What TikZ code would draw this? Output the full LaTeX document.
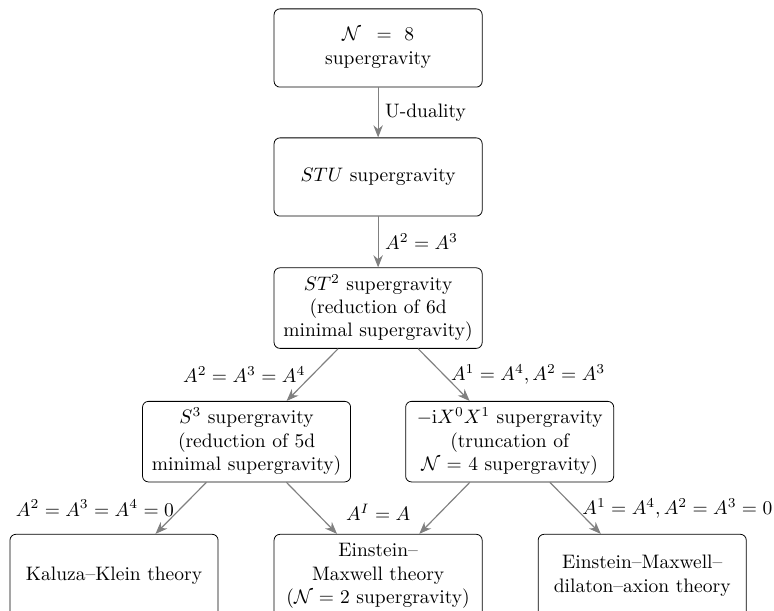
\documentclass[tikz,border=0pt]{standalone}
\usepackage{amsmath,amssymb}
\usetikzlibrary{arrows.meta,positioning,calc}
\definecolor{flowgray}{HTML}{808080}

\begin{document}
\begin{tikzpicture}[
    theory/.style={draw,rounded corners=3pt,align=center,text width=3.45cm,
                   minimum width=3.75cm,minimum height=1.41cm},
    leaf/.style={theory,minimum height=1.5cm},
    flow/.style={draw=flowgray,semithick,-{Stealth[length=2.2mm,width=1.7mm]}}]
  \useasboundingbox (0,0) rectangle (13.95,-11.01);
  % chain of truncations
  \node[theory] (n8)   at (6.815,-0.865) {$\mathcal{N}$\hspace{8pt}$=$\hspace{6.5pt}$8$\\ supergravity};
  \node[theory] (stu)  at (6.815,-3.19)  {$STU$ supergravity};
  \node[theory] (st2)  at (6.815,-5.553) {$ST^2$ supergravity\\ (reduction of 6d\\ minimal supergravity)};
  \node[theory] (s3)   at (4.444,-7.96)  {$S^3$ supergravity\\ (reduction of 5d\\ minimal supergravity)};
  \node[theory] (ixx)  at (9.186,-7.96)  {$-\mathrm{i}X^0X^1$ supergravity\\ (truncation of\\ $\mathcal{N}=4$ supergravity)};
  \node[leaf] (kk)   at (2.055,-10.38) {Kaluza--Klein theory};
  \node[leaf] (em)   at (6.815,-10.38) {Einstein--\\ Maxwell theory\\ ($\mathcal{N}=2$ supergravity)};
  \node[leaf] (emda) at (11.575,-10.38) {Einstein--Maxwell--\\ dilaton--axion theory};
  % arrows
  \foreach \a/\b/\s/\t in {n8/stu/right/{U-duality},
                           stu/st2/right/{$A^2=A^3$},
                           st2/s3/left/{$A^2=A^3=A^4$},
                           st2/ixx/right/{$A^1=A^4, A^2=A^3$},
                           s3/kk/left/{$A^2=A^3=A^4=0$},
                           ixx/emda/right/{$A^1=A^4, A^2=A^3=0$}}
    { \draw[flow] (\a) -- node[midway,\s] {\t} (\b); }
  \draw[flow] (s3) -- (em);
  \draw[flow] (ixx) -- (em);
  \node (aia) at (6.815,-9.23) {$A^I=A$};
\end{tikzpicture}
\end{document}
